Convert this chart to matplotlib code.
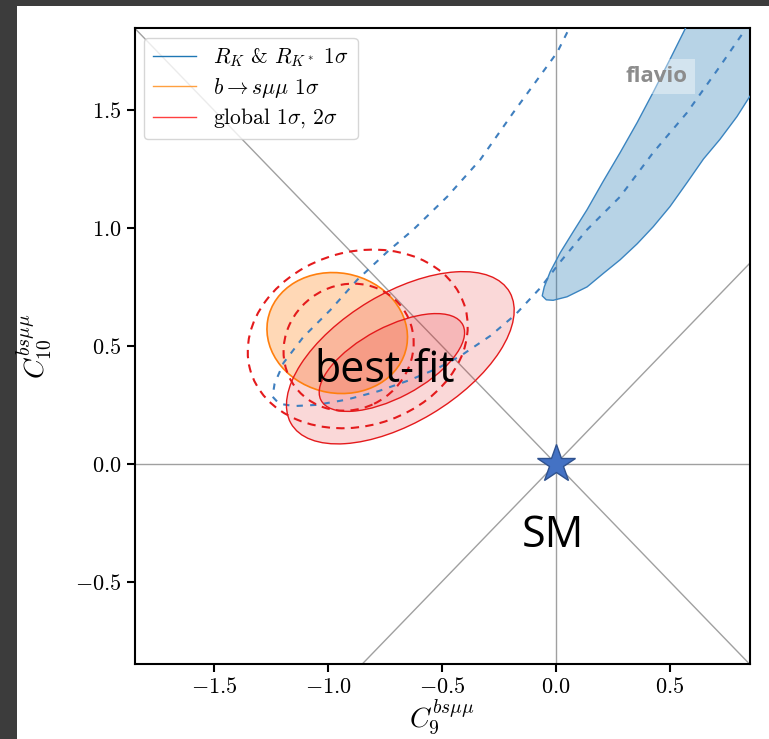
import matplotlib
matplotlib.use("Agg")
import matplotlib.pyplot as plt
from matplotlib.patches import Ellipse, Polygon, Rectangle
from matplotlib.lines import Line2D
import numpy as np

plt.rcParams["font.family"] = "serif"
plt.rcParams["font.serif"] = ["cmr10", "DejaVu Serif"]
plt.rcParams["mathtext.fontset"] = "cm"
plt.rcParams["axes.formatter.use_mathtext"] = True
plt.rcParams["axes.unicode_minus"] = True

# Ejes
x_limits = (-1.85, 0.85)
y_limits = (-0.85, 1.85)
x_ticks = [-1.5, -1.0, -0.5, 0.0, 0.5]
y_ticks = [-0.5, 0.0, 0.5, 1.0, 1.5]

# R_K & R_K* 1 sigma (banda rellena), bordes
rk_left_x = [0.62, 0.571, 0.501, 0.427, 0.357, 0.282, 0.207, 0.137, 0.076, 0.019, -0.025,
             -0.051, -0.060, -0.042, -0.012]
rk_left_y = [2.00, 1.853, 1.717, 1.577, 1.449, 1.321, 1.198, 1.079, 0.985, 0.896, 0.815,
             0.751, 0.713, 0.696, 0.694]
rk_right_x = [0.049, 0.137, 0.208, 0.282, 0.357, 0.427, 0.501, 0.576, 0.648, 0.720, 0.795,
              0.843, 0.95, 1.05]
rk_right_y = [0.709, 0.751, 0.808, 0.866, 0.934, 1.006, 1.092, 1.194, 1.294, 1.377, 1.474,
              1.547, 1.70, 2.00]

# R_K & R_K* 2 sigma (discontinua)
rk2_x = [0.050, 0.006, -0.187, -0.332, -0.477, -0.626, -0.740, -0.872, -0.990, -1.109,
         -1.196, -1.235, -1.244, -1.215, -1.150, -1.050, -0.920, -0.780, -0.640, -0.520,
         -0.420, -0.288, -0.179, -0.068, 0.019, 0.137, 0.282, 0.427, 0.576, 0.720, 0.817]
rk2_y = [1.832, 1.747, 1.491, 1.291, 1.134, 0.994, 0.900, 0.781, 0.653, 0.538,
         0.428, 0.340, 0.285, 0.255, 0.245, 0.250, 0.272, 0.308, 0.356, 0.405,
         0.457, 0.543, 0.632, 0.747, 0.857, 0.994, 1.134, 1.321, 1.491, 1.687, 1.823]

# Elipses: b->smumu 1 sigma, global 2 sigma, global 1 sigma
bsmm_center = (-0.96, 0.555)
bsmm_size = (0.62, 0.51)
bsmm_angle = -10
global_centers = [(-0.683, 0.45), (-0.72, 0.43)]
global_sizes = [(1.11, 0.55), (0.70, 0.30)]
global_angles = [30, 27]

# Contornos rojos discontinuos
dashed_centers = [(-0.87, 0.53), (-0.91, 0.495)]
dashed_sizes = [(0.98, 0.74), (0.58, 0.53)]
dashed_angles = [15, 25]

legend_labels = [r"$R_K$ & $R_{K^*}$ $1\sigma$", r"$b\to s\mu\mu$ $1\sigma$", r"global $1\sigma$, $2\sigma$"]

blue = "#1f77b4"
orange = "#ff7f0e"
red = "#e41a1c"

fig = plt.figure(figsize=(7.69, 7.39), dpi=100, facecolor="#3c3c3c")
background = Rectangle((17 / 769, 0), 1, 1 - 6 / 739, transform=fig.transFigure,
                       facecolor="white", edgecolor="none", zorder=-10)
fig.add_artist(background)
ax = fig.add_axes([134.5 / 769, 75 / 739, 615 / 769, 636 / 739])

# Lineas de referencia
ax.axhline(0, color="#a0a0a0", lw=1, zorder=1)
ax.axvline(0, color="#a0a0a0", lw=1, zorder=1)
diag = np.array([-3, 3])
ax.plot(diag, diag, color="#a0a0a0", lw=1, zorder=1)
ax.plot(diag, -diag, color="#a0a0a0", lw=1, zorder=1)

# Banda azul
band = np.column_stack([rk_left_x + rk_right_x, rk_left_y + rk_right_y])
ax.add_patch(Polygon(band, closed=True, facecolor=blue, alpha=0.32, edgecolor="none", zorder=2))
ax.add_patch(Polygon(band, closed=True, facecolor="none", edgecolor="#3a84c0", lw=1.0, zorder=3,
                     joinstyle="round"))
ax.plot(rk2_x, rk2_y, color="#3f7fbf", lw=1.5, ls=(0, (3, 3.5)), zorder=3)

# Elipse naranja
ax.add_patch(Ellipse(bsmm_center, *bsmm_size, angle=bsmm_angle, facecolor=orange, alpha=0.3,
                     edgecolor="none", zorder=2))
ax.add_patch(Ellipse(bsmm_center, *bsmm_size, angle=bsmm_angle, facecolor="none",
                     edgecolor=orange, lw=1.2, zorder=3))

# Elipses globales
for center, size, angle in zip(global_centers, global_sizes, global_angles):
    ax.add_patch(Ellipse(center, *size, angle=angle, facecolor=red, alpha=0.17, edgecolor="none", zorder=2))
    ax.add_patch(Ellipse(center, *size, angle=angle, facecolor="none", edgecolor=red, lw=1.0, zorder=3))

for center, size, angle in zip(dashed_centers, dashed_sizes, dashed_angles):
    ax.add_patch(Ellipse(center, *size, angle=angle, facecolor="none", edgecolor=red, lw=1.5,
                         ls=(0, (4, 3)), zorder=3))

# SM
ax.plot([0], [0], marker="*", ms=29, color="#4472c4", mec="#2f528f", mew=1, zorder=5)
ax.text(-0.753, 0.394, "best-fit", family="Open Sans", fontsize=31, ha="center", va="center", zorder=6)
ax.text(-0.012, -0.304, "SM", family="Open Sans", fontsize=31, ha="center", va="center", zorder=6)

ax.text(0.443, 1.645, "flavio", family="Open Sans", fontweight="bold", fontsize=16, color="#8c8c8c",
        ha="center", va="center", zorder=4,
        bbox=dict(facecolor="white", alpha=0.4, edgecolor="none", pad=5))

handles = [Line2D([], [], color=blue, lw=1), Line2D([], [], color="#ffa040", lw=1),
           Line2D([], [], color="#ff4040", lw=1)]
ax.legend(handles, legend_labels, loc="upper left", fontsize=15.5, handlelength=2.0,
          borderaxespad=0.45, labelspacing=0.32)

ax.set_xlim(*x_limits)
ax.set_ylim(*y_limits)
ax.set_xticks(x_ticks)
ax.set_yticks(y_ticks)
ax.tick_params(labelsize=16, width=1.5, length=6)
for spine in ax.spines.values():
    spine.set_linewidth(1.5)
ax.set_xlabel(r"$C_9^{bs\mu\mu}$", fontsize=20, labelpad=0)
ax.set_ylabel(r"$C_{10}^{bs\mu\mu}$", fontsize=20, labelpad=15)

fig.savefig("out.png", dpi=100, facecolor=fig.get_facecolor())
